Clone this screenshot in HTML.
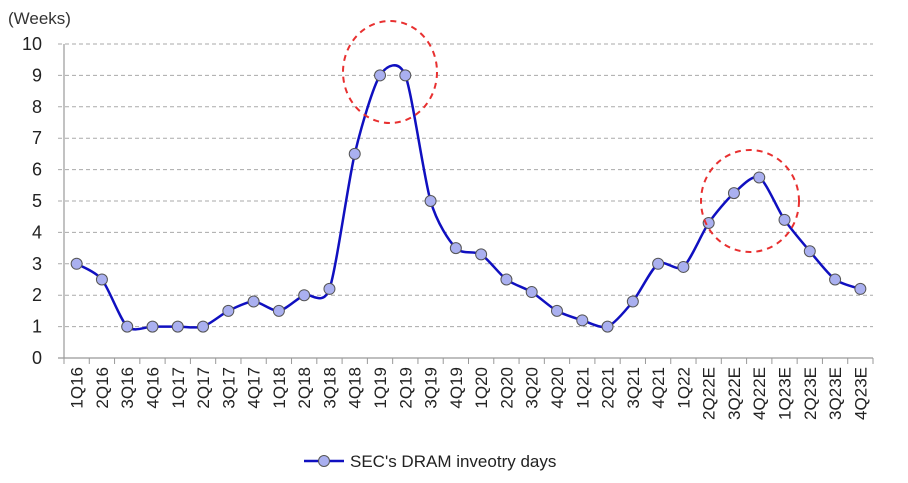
<!DOCTYPE html>
<html><head><meta charset="utf-8"><style>
body{margin:0;background:#fff;}
svg{display:block;font-family:"Liberation Sans",sans-serif;}
</style></head><body>
<svg id="chart" width="908" height="483">
<text x="8" y="24" font-size="17" fill="#333">(Weeks)</text>
<g id="grid"></g><g id="xaxis"></g><g id="series"></g>
<ellipse cx="390" cy="72" rx="47" ry="51" fill="none" stroke="#e83030" stroke-width="2" stroke-dasharray="6,5"/>
<ellipse cx="750" cy="201" rx="49" ry="51" fill="none" stroke="#e83030" stroke-width="2" stroke-dasharray="6,5"/>
<g>
<line x1="304" y1="461" x2="344" y2="461" stroke="#1010c0" stroke-width="2.5"/>
<circle cx="324" cy="461" r="5.5" fill="#aab0f0" stroke="#555" stroke-width="1"/>
<text x="350" y="467" font-size="17" fill="#222">SEC's DRAM inveotry days</text>
</g>
</svg>
<script>
const categories=["1Q16","2Q16","3Q16","4Q16","1Q17","2Q17","3Q17","4Q17","1Q18","2Q18","3Q18","4Q18","1Q19","2Q19","3Q19","4Q19","1Q20","2Q20","3Q20","4Q20","1Q21","2Q21","3Q21","4Q21","1Q22","2Q22E","3Q22E","4Q22E","1Q23E","2Q23E","3Q23E","4Q23E"];
const values=[3,2.5,1,1,1,1,1.5,1.8,1.5,2,2.2,6.5,9,9,5,3.5,3.3,2.5,2.1,1.5,1.2,1,1.8,3,2.9,4.3,5.25,5.75,4.4,3.4,2.5,2.2];
const yTicks=[0,1,2,3,4,5,6,7,8,9,10];
const NS="http://www.w3.org/2000/svg";
const X0=64,X1=873,Y0=358,Y1=44;
const bw=(X1-X0)/categories.length;
const xs=i=>X0+bw*(i+0.5);
const ys=v=>Y0-(v/10)*(Y0-Y1);
function mk(t,a,p){const e=document.createElementNS(NS,t);for(const k in a)e.setAttribute(k,a[k]);p.appendChild(e);return e;}
const grid=document.getElementById('grid'),xa=document.getElementById('xaxis'),se=document.getElementById('series');
yTicks.forEach(v=>{
 if(v>0){const l=mk('line',{x1:X0-6,x2:X1,y1:ys(v),y2:ys(v),stroke:'#aaa','stroke-dasharray':'4,3'},grid);
 
 }
 const t=mk('text',{x:X0-22,y:ys(v)+6,'font-size':18,fill:'#222','text-anchor':'end'},grid);t.textContent=v;
 
 
});
mk('line',{x1:X0,x2:X0,y1:Y1,y2:Y0,stroke:'#999','stroke-width':1.2},xa);
mk('line',{x1:X0-6,x2:X1,y1:Y0,y2:Y0,stroke:'#999','stroke-width':1.2},xa);
for(let i=0;i<=categories.length;i++)mk('line',{x1:X0+bw*i,x2:X0+bw*i,y1:Y0,y2:Y0+6,stroke:'#999'},xa);
categories.forEach((c,i)=>{
 const t=mk('text',{x:0,y:0,'font-size':17,fill:'#222','text-anchor':'end',transform:`translate(${xs(i)+6},${Y0+9}) rotate(-90)`},xa);t.textContent=c;
 
 
});
const pts=values.map((v,i)=>[xs(i),ys(v)]);
let d=`M${pts[0][0]},${pts[0][1]}`;
for(let i=0;i<pts.length-1;i++){
 const p0=pts[i-1]||pts[i],p1=pts[i],p2=pts[i+1],p3=pts[i+2]||p2,k=0.13;
 d+=` C${p1[0]+(p2[0]-p0[0])*k},${p1[1]+(p2[1]-p0[1])*k} ${p2[0]-(p3[0]-p1[0])*k},${p2[1]-(p3[1]-p1[1])*k} ${p2[0]},${p2[1]}`;
}
const path=mk('path',{d:d,fill:'none',stroke:'#1010c0','stroke-width':2.5},se);


pts.forEach((p,i)=>{
 const c=mk('circle',{cx:p[0],cy:p[1],r:5.5,fill:'#aab0f0',stroke:'#555','stroke-width':1},se);
 
 
});
</script>
</body></html>
